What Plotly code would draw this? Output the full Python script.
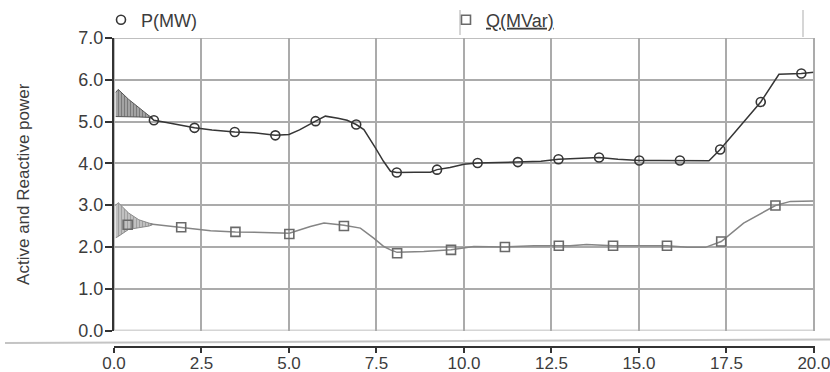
import plotly.graph_objects as go

# ---- data ----
# Active power P (MW): main curve
p_t = [1.05, 1.14, 1.5, 2.0, 2.30, 2.8, 3.2, 3.45, 4.0, 4.61, 5.0, 5.3, 5.76, 6.04, 6.4, 6.66,
       6.92, 7.14, 7.47, 7.7, 7.9, 8.08, 8.6, 9.04, 9.23, 9.6, 10.0, 10.39, 11.0, 11.54, 12.2,
       12.70, 13.3, 13.86, 14.4, 15.01, 15.6, 16.17, 17.0, 17.32, 17.9, 18.48, 19.0, 19.64, 20.0]
p_v = [5.10, 5.03, 4.98, 4.90, 4.85, 4.80, 4.76, 4.75, 4.73, 4.67, 4.69, 4.80, 5.01, 5.13, 5.08, 5.03,
       4.93, 4.81, 4.37, 4.05, 3.81, 3.78, 3.79, 3.79, 3.85, 3.90, 3.98, 4.01, 4.02, 4.03, 4.05,
       4.10, 4.12, 4.14, 4.10, 4.07, 4.07, 4.07, 4.06, 4.33, 4.90, 5.47, 6.13, 6.15, 6.18]
# P markers
p_mark_t = [1.14, 2.30, 3.45, 4.61, 5.76, 6.92, 8.08, 9.23, 10.39, 11.54, 12.70, 13.86, 15.01, 16.17, 17.32, 18.48, 19.64]
p_mark_v = [5.03, 4.85, 4.75, 4.67, 5.01, 4.93, 3.78, 3.85, 4.01, 4.03, 4.10, 4.14, 4.07, 4.07, 4.33, 5.47, 6.15]
# P start-up oscillation envelope
p_env_t = [0.05, 0.12, 0.42, 0.71, 1.0, 1.1]
p_env_hi = [5.70, 5.77, 5.53, 5.33, 5.14, 5.09]
p_env_lo = [5.12, 5.12, 5.12, 5.11, 5.10, 5.09]

# Reactive power Q (MVar): main curve
q_t = [1.04, 1.92, 2.76, 3.47, 4.19, 5.01, 5.61, 6.0, 6.57, 7.04, 7.42, 7.71, 7.9, 8.09, 8.85,
       9.63, 10.28, 11.17, 12.0, 12.71, 13.03, 13.5, 14.26, 15.8, 16.38, 16.9, 17.35, 17.99,
       18.9, 19.33, 20.0]
q_v = [2.55, 2.47, 2.39, 2.36, 2.35, 2.33, 2.49, 2.57, 2.52, 2.45, 2.21, 2.01, 1.93, 1.87, 1.89,
       1.93, 2.01, 2.00, 2.03, 2.03, 2.03, 2.06, 2.03, 2.03, 1.99, 1.99, 2.13, 2.57,
       2.99, 3.09, 3.10]
# Q markers
q_mark_t = [0.39, 1.92, 3.47, 5.01, 6.57, 8.09, 9.63, 11.17, 12.71, 14.26, 15.80, 17.35, 18.90]
q_mark_v = [2.53, 2.47, 2.36, 2.31, 2.50, 1.85, 1.93, 2.00, 2.03, 2.03, 2.03, 2.13, 2.99]
# Q start-up oscillation envelope
q_env_t = [0.05, 0.12, 0.42, 0.71, 1.0, 1.1]
q_env_hi = [3.0, 3.06, 2.81, 2.65, 2.57, 2.55]
q_env_lo = [2.22, 2.25, 2.42, 2.46, 2.50, 2.53]

x_ticks = [0, 2.5, 5, 7.5, 10, 12.5, 15, 17.5, 20]
x_ticktext = ["0.0", "2.5", "5.0", "7.5", "10.0", "12.5", "15.0", "17.5", "20.0"]
y_ticks = [0, 1, 2, 3, 4, 5, 6, 7]
y_ticktext = ["0.0", "1.0", "2.0", "3.0", "4.0", "5.0", "6.0", "7.0"]

P_COL = "#363636"
Q_COL = "#858585"
GRID = "#ababab"
TXT = "#3c3c3c"

fig = go.Figure()

# oscillation bands
fig.add_trace(go.Scatter(
    x=p_env_t + p_env_t[::-1], y=p_env_hi + p_env_lo[::-1], fill="toself", mode="lines",
    line=dict(color="#555", width=1), fillcolor="#9a9a9a",
    fillpattern=dict(shape="|", fgcolor="#4a4a4a", bgcolor="#a8a8a8", size=3, solidity=0.4),
    showlegend=False, hoverinfo="skip"))
fig.add_trace(go.Scatter(
    x=q_env_t + q_env_t[::-1], y=q_env_hi + q_env_lo[::-1], fill="toself", mode="lines",
    line=dict(color="#8a8a8a", width=1), fillcolor="#bcbcbc",
    fillpattern=dict(shape="|", fgcolor="#7a7a7a", bgcolor="#c4c4c4", size=3, solidity=0.4),
    showlegend=False, hoverinfo="skip"))

# curves
fig.add_trace(go.Scatter(x=p_t, y=p_v, mode="lines", line=dict(color=P_COL, width=1.5),
                         showlegend=False))
fig.add_trace(go.Scatter(x=q_t, y=q_v, mode="lines", line=dict(color=Q_COL, width=1.5),
                         showlegend=False))
# markers
fig.add_trace(go.Scatter(x=p_mark_t, y=p_mark_v, mode="markers", name="P(MW)",
                         marker=dict(symbol="circle-open", size=9, color=P_COL, line=dict(width=1.6)),
                         legend="legend"))
fig.add_trace(go.Scatter(x=q_mark_t, y=q_mark_v, mode="markers", name="<u>Q(MVar)</u>",
                         marker=dict(symbol="square-open", size=9, color="#6a6a6a", line=dict(width=1.6)),
                         legend="legend2"))

W, H = 830, 372
ML, MR, MT, MB = 114, 15, 38, 25
PW, PH = W - ML - MR, H - MT - MB
X_MAX = 20.03
y0_px = 330.5
ydom0 = (H - MB - y0_px) / PH


def px_x(px):
    return (px - ML) / PW


def px_y(py):
    return (H - MB - py) / PH


fig.update_layout(
    width=W, height=H,
    margin=dict(l=ML, r=MR, t=MT, b=MB, autoexpand=False),
    paper_bgcolor="white", plot_bgcolor="white",
    font=dict(family="Liberation Sans, Arial, sans-serif", color=TXT, size=18),
    xaxis=dict(range=[0, X_MAX], tickvals=x_ticks, ticktext=x_ticktext,
               showgrid=True, gridcolor=GRID, gridwidth=1.6, zeroline=False,
               anchor="free", position=0,
               showline=True, linecolor="#333", linewidth=2,
               ticks="outside", ticklen=5, tickwidth=1.6, tickcolor="#333",
               ticklabeloverflow="allow", ticklabelstandoff=-4,
               tickfont=dict(size=17, color=TXT)),
    yaxis=dict(domain=[ydom0, 1], range=[0, 7], tickvals=y_ticks, ticktext=y_ticktext,
               showgrid=True, gridcolor=GRID, gridwidth=1.6, zeroline=False,
               showline=True, linecolor="#333", linewidth=2,
               ticks="outside", ticklen=7, tickwidth=1.6, tickcolor="#333",
               ticklabelstandoff=-2,
               tickfont=dict(size=18, color=TXT),
               title=dict(text="Active and Reactive power", font=dict(size=17, color=TXT), standoff=44)),
    legend=dict(x=px_x(101), y=px_y(20), xanchor="left", yanchor="middle",
                bgcolor="rgba(0,0,0,0)", font=dict(size=18, color=TXT), itemwidth=30),
    legend2=dict(x=px_x(446), y=px_y(20), xanchor="left", yanchor="middle",
                 bgcolor="rgba(0,0,0,0)", font=dict(size=18, color=TXT), itemwidth=30),
    shapes=[
        # plot frame (top / right / bottom grid lines)
        dict(type="rect", xref="x", yref="y", x0=0, x1=20, y0=0, y1=7,
             line=dict(color=GRID, width=1.6), layer="below"),
        dict(type="line", xref="x", yref="y", x0=20, x1=20, y0=0, y1=7,
             line=dict(color=GRID, width=1.6), layer="above"),
        # light separator line above the x axis
        dict(type="line", xref="paper", yref="paper", x0=px_x(5), x1=px_x(830),
             y0=px_y(343), y1=px_y(339.5), line=dict(color="#c4c4c4", width=2)),
        # legend frame fragments
        dict(type="line", xref="paper", yref="paper", x0=px_x(460), x1=px_x(460),
             y0=px_y(10), y1=px_y(35), line=dict(color="#c8c8c8", width=1.5)),
        dict(type="line", xref="paper", yref="paper", x0=px_x(803), x1=px_x(803),
             y0=px_y(10), y1=px_y(37), line=dict(color="#c8c8c8", width=1.5)),
    ],
)

fig.write_html("out.html")
